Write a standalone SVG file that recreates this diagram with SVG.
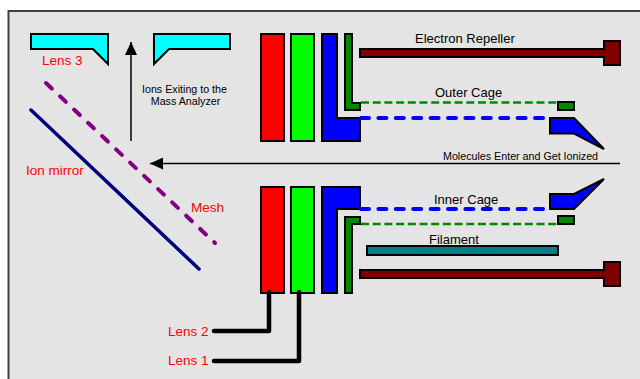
<svg xmlns="http://www.w3.org/2000/svg" width="640" height="379" viewBox="0 0 640 379">
<defs>
<marker id="ah" markerUnits="userSpaceOnUse" markerWidth="14" markerHeight="12" refX="13" refY="6" orient="auto"><path d="M0 0L13 6L0 12Z" fill="#000"/></marker>
</defs>
<style>
.s{stroke:#000;stroke-width:2}
.t{font-family:"Liberation Sans",Arial,sans-serif;font-size:13px;fill:#000}
.r{font-family:"Liberation Sans",Arial,sans-serif;font-size:13.5px;fill:#f00}
.sm{font-size:10.7px}
.c{fill:none;stroke:#000;stroke-width:4.500;stroke-linecap:round;stroke-linejoin:round}
</style>
<rect width="640" height="379" fill="#fff"/>
<rect x="8.5" y="11" width="640" height="380" fill="#e4e4e4" stroke="#404040" stroke-width="2"/>
<g id="lens3-left"><path class="s" fill="#0ff" d="M31 34H108V64L93 49H31Z"/><text class="r" x="42" y="65">Lens 3</text></g>
<g id="lens3-right"><path class="s" fill="#0ff" d="M154 34H230V49H169L154 64Z"/></g>
<g id="lens2-upper"><rect class="s" x="261" y="34" width="23" height="107" fill="#f00"/></g>
<g id="lens1-upper"><rect class="s" x="291" y="34" width="23" height="107" fill="#0f0"/></g>
<g id="inner-upper"><path class="s" fill="#00f" d="M322 34H337V118H360V141H322Z"/></g>
<g id="outer-upper"><path class="s" fill="#080" d="M345 34H352V103H360V110H345Z"/></g>
<g id="lens2-lower"><rect class="s" x="261" y="187" width="23" height="106" fill="#f00"/></g>
<g id="lens1-lower"><rect class="s" x="291" y="187" width="23" height="106" fill="#0f0"/></g>
<g id="inner-lower"><path class="s" fill="#00f" d="M322 187H360V209H337V293H322Z"/></g>
<g id="outer-lower"><path class="s" fill="#080" d="M345 217H360V224H352V293H345Z"/></g>
<g id="repeller-upper"><path class="s" fill="#800000" d="M360 49H604V41H620V65H604V57H360Z"/><text class="t" x="415" y="43">Electron Repeller</text></g>
<g id="repeller-lower"><path class="s" fill="#800000" d="M360 270H604V262H620V286H604V278H360Z"/></g>
<g id="filament"><rect class="s" x="367" y="246" width="191" height="9" fill="#008080"/><text class="t" x="429" y="244">Filament</text></g>
<g id="outer-cage-upper"><rect class="s" x="558" y="102" width="16" height="8" fill="#080"/><text class="t" x="435" y="97">Outer Cage</text></g>
<g id="outer-cage-lower"><rect class="s" x="558" y="216" width="16" height="8" fill="#080"/></g>
<g id="inner-cage-upper"><path class="s" fill="#00f" d="M550 118H574L604 149L574 133.500H550Z"/></g>
<g id="inner-cage-lower"><path class="s" fill="#00f" d="M550 194H574L604 179L574 209H550Z"/><text class="t" x="434" y="204">Inner Cage</text></g>
<g id="mirror"><text class="r" x="26" y="175">Ion mirror</text></g>
<g id="mesh"><text class="r" x="191" y="212">Mesh</text></g>
<g id="labels">
<text class="r" x="168" y="336">Lens 2</text>
<text class="r" x="168" y="365">Lens 1</text>
<text class="t sm" x="184.500" y="93" text-anchor="middle">Ions Exiting to the</text>
<text class="t sm" x="185.500" y="105" text-anchor="middle">Mass Analyzer</text>
<text class="t sm" x="443" y="160">Molecules Enter and Get Ionized</text>
</g>
<g id="connectors">
<path d="M361 102.500H558" fill="none" stroke="#080" stroke-width="2.500" stroke-dasharray="8 3.700"/>
<path d="M361 118H545" fill="none" stroke="#00f" stroke-width="4" stroke-dasharray="8 9.400" stroke-linecap="round"/>
<path d="M361 224H558" fill="none" stroke="#080" stroke-width="2.500" stroke-dasharray="8 3.700"/>
<path d="M361 209H545" fill="none" stroke="#00f" stroke-width="4" stroke-dasharray="8 9.400" stroke-linecap="round"/>
<path d="M620 163.500H150" fill="none" stroke="#000" stroke-width="1.500" marker-end="url(#ah)"/>
<path d="M131 141V42" fill="none" stroke="#000" stroke-width="1.500" marker-end="url(#ah)"/>
<path d="M31 110L199 269" fill="none" stroke="#000080" stroke-width="3.500" stroke-linecap="round"/>
<path d="M46 83L215 243" fill="none" stroke="#800080" stroke-width="4" stroke-dasharray="8 11.300" stroke-linecap="round"/>
<path class="c" d="M214 331H269V292"/>
<path class="c" d="M214 361H299V292"/>
</g>
</svg>
